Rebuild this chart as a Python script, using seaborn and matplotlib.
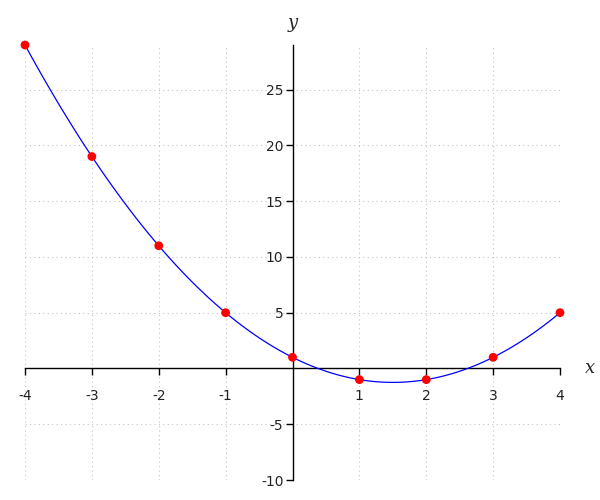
import matplotlib
matplotlib.use("Agg")
import matplotlib.pyplot as plt
import seaborn as sns
import pandas as pd

x_vals = [-4, -3, -2, -1, 0, 1, 2, 3, 4]
y_vals = [29, 19, 11, 5, 1, -1, -1, 1, 5]
x_ticks = [-4, -3, -2, -1, 1, 2, 3, 4]
y_ticks = [-10, -5, 5, 10, 15, 20, 25]

sns.set_style("white")
plt.rcParams["axes.unicode_minus"] = False
plt.rcParams["font.family"] = ["DejaVu Sans"]

df = pd.DataFrame({"x": x_vals, "y": y_vals})

fig = plt.figure(figsize=(6, 5), dpi=100)
ax = fig.add_axes([25/600, 20/500, 535/600, 435/500])

sns.regplot(data=df, x="x", y="y", order=2, ci=None, scatter=False,
            line_kws=dict(color="#0000ff", lw=0.9, zorder=3), ax=ax)
sns.scatterplot(data=df, x="x", y="y", color="#ff0000", s=40,
                edgecolor="none", zorder=4, ax=ax, clip_on=False)

ax.set_xlim(-4, 4)
ax.set_ylim(-10, 29)
ax.set_xlabel("")
ax.set_ylabel("")

ax.spines["left"].set_position(("data", 0))
ax.spines["bottom"].set_position(("data", 0))
ax.spines["right"].set_visible(False)
ax.spines["top"].set_visible(False)
for s in ("left", "bottom"):
    ax.spines[s].set_color("black")
    ax.spines[s].set_linewidth(1.0)

ax.set_xticks(x_ticks)
ax.set_yticks(y_ticks)
ax.set_xticklabels([str(v) for v in x_ticks])
ax.set_yticklabels([str(v) for v in y_ticks])
ax.tick_params(axis="both", direction="out", length=5, width=1, colors="black",
               labelsize=10, labelcolor="#222222")
ax.tick_params(axis="x", bottom=True, pad=10)
ax.tick_params(axis="y", left=True, pad=1.5)

# dotted grid
for gx in x_vals:
    ax.axvline(gx, color="#c4c4c4", lw=0.8, ls=(0, (1, 3)), zorder=0)
for gy in [-10, -5, 5, 10, 15, 20, 25]:
    ax.axhline(gy, color="#c4c4c4", lw=0.8, ls=(0, (1, 3)), zorder=0)

ax.text(0, 1.03, "y", transform=ax.get_xaxis_transform(), ha="center", va="bottom",
        fontsize=13, style="italic", family="DejaVu Serif")
ax.text(1.056, 0, "x", transform=ax.get_yaxis_transform(), ha="center", va="center",
        fontsize=13, style="italic", family="DejaVu Serif")

fig.savefig("out.png", dpi=100)
